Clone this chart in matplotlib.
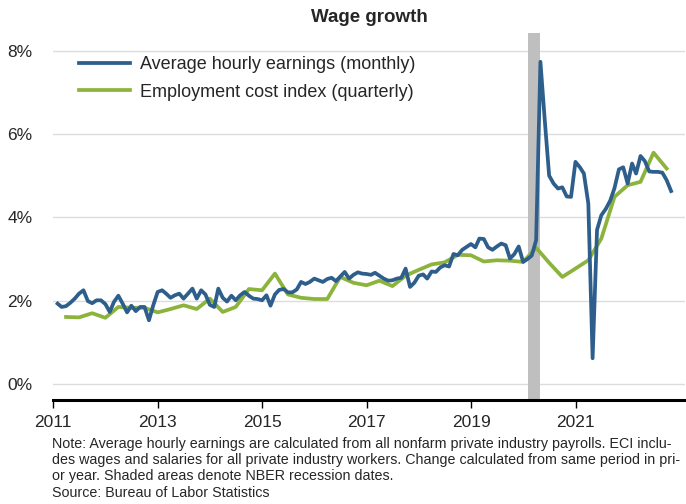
import pandas as pd
import matplotlib
matplotlib.use('Agg')
import matplotlib.pyplot as plt
import matplotlib.dates as mdates

plt.rcParams['font.family'] = ['Liberation Sans', 'DejaVu Sans']

# Average hourly earnings, % change from a year earlier (monthly, Jan 2011 - Oct 2022)
ahe = [
    1.93, 1.85, 1.87, 1.95, 2.05, 2.17, 2.25, 1.99, 1.94, 2.01, 2.01, 1.92,
    1.73, 1.97, 2.12, 1.93, 1.72, 1.88, 1.75, 1.85, 1.85, 1.53, 1.89, 2.21,
    2.25, 2.17, 2.07, 2.13, 2.17, 2.05, 2.17, 2.29, 2.05, 2.25, 2.15, 1.90,
    1.85, 2.29, 2.07, 1.98, 2.12, 2.01, 2.13, 2.21, 2.12, 2.05, 2.04, 2.01,
    2.13, 1.88, 2.15, 2.26, 2.28, 2.20, 2.20, 2.27, 2.45, 2.40, 2.45, 2.53,
    2.49, 2.45, 2.52, 2.55, 2.47, 2.58, 2.69, 2.53, 2.62, 2.68, 2.65, 2.64,
    2.62, 2.67, 2.60, 2.53, 2.48, 2.49, 2.53, 2.55, 2.77, 2.33, 2.43, 2.60,
    2.63, 2.53, 2.70, 2.69, 2.80, 2.85, 2.82, 3.12, 3.09, 3.22, 3.29, 3.36,
    3.28, 3.49, 3.48, 3.28, 3.22, 3.30, 3.37, 3.33, 3.01, 3.12, 3.30, 2.93,
    3.00, 3.08, 3.45, 7.73, 6.30, 5.00, 4.81, 4.69, 4.72, 4.50, 4.49, 5.33,
    5.20, 5.05, 4.33, 0.62, 3.70, 4.05, 4.20, 4.40, 4.70, 5.15, 5.20, 4.81,
    5.29, 5.05, 5.47, 5.35, 5.10, 5.09, 5.09, 5.07, 4.89, 4.63,
]

# Employment cost index, wages and salaries (quarterly, 2011Q1 - 2022Q3)
eci = [
    1.61, 1.60, 1.70, 1.59,
    1.85, 1.83, 1.83, 1.72,
    1.80, 1.89, 1.80, 2.05,
    1.73, 1.85, 2.28, 2.25,
    2.65, 2.15, 2.07, 2.04,
    2.04, 2.57, 2.43, 2.37,
    2.48, 2.35, 2.60, 2.74,
    2.87, 2.92, 3.10, 3.09,
    2.94, 2.97, 2.96, 2.93,
    3.27, 2.91, 2.57, 2.77,
    2.97, 3.49, 4.49, 4.77,
    4.85, 5.55, 5.17,
]

ahe_dates = pd.date_range('2011-01-31', periods=len(ahe), freq='ME')
eci_dates = pd.date_range('2011-03-31', periods=len(eci), freq='QE')

recession = (pd.Timestamp('2020-02-01'), pd.Timestamp('2020-04-30'))
year_ticks = [2011, 2013, 2015, 2017, 2019, 2021]
y_ticks = [0, 2, 4, 6, 8]

note = ("Note: Average hourly earnings are calculated from all nonfarm private industry payrolls. ECI inclu-\n"
        "des wages and salaries for all private industry workers. Change calculated from same period in pri-\n"
        "or year. Shaded areas denote NBER recession dates.\n"
        "Source: Bureau of Labor Statistics")

blue = '#2e5f8c'
green = '#8cb43c'
text_col = '#262626'

fig = plt.figure(figsize=(6.86, 5.04), dpi=100)
ax = fig.add_axes([0.0777, 0.2073, 0.9208, 0.7272])

ax.axvspan(recession[0], recession[1], color='#bfbfbf', lw=0, zorder=1)
ax.plot(ahe_dates, ahe, color=blue, lw=2.7, zorder=3,
        label='Average hourly earnings (monthly)', solid_joinstyle='round')
ax.plot(eci_dates, eci, color=green, lw=2.7, zorder=2,
        label='Employment cost index (quarterly)', solid_joinstyle='round')

ax.set_xlim(pd.Timestamp('2011-01-01'), pd.Timestamp('2023-02-05'))
ax.set_ylim(-0.37, 8.42)

ax.set_xticks([pd.Timestamp(f'{y}-01-01') for y in year_ticks])
ax.xaxis.set_major_formatter(mdates.DateFormatter('%Y'))
ax.set_yticks(y_ticks)
ax.set_yticklabels([f'{v}%' for v in y_ticks])

ax.grid(axis='y', color='#dcdcdc', lw=1.0)
ax.set_axisbelow(True)
for side in ['top', 'right', 'left']:
    ax.spines[side].set_visible(False)
ax.spines['bottom'].set_linewidth(2.2)
ax.spines['bottom'].set_color('black')

ax.tick_params(axis='x', direction='out', length=6, width=1, color='black',
               labelsize=12.5, labelcolor=text_col, pad=5)
ax.tick_params(axis='y', length=0, labelsize=12.5, labelcolor=text_col, pad=15)

ax.set_title('Wage growth', fontsize=13.5, fontweight='bold', color=text_col, pad=8)

ax.legend(loc='upper left', bbox_to_anchor=(0.015, 0.982), frameon=False,
          fontsize=13, handlelength=2.8, handletextpad=0.6, labelspacing=0.6,
          labelcolor=text_col)

fig.text(0.076, 0.133, note, fontsize=10.3, color=text_col, va='top', ha='left',
         linespacing=1.2)

fig.savefig('out.png', dpi=100)
